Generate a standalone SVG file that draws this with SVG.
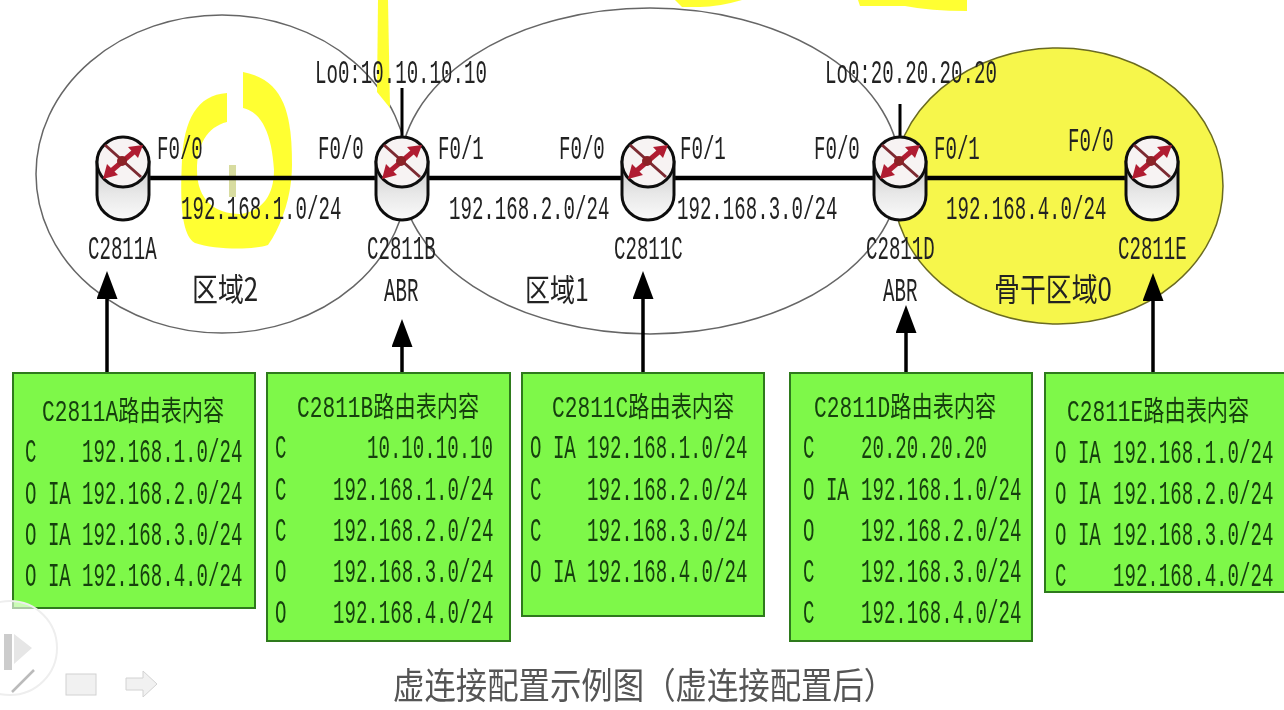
<svg xmlns="http://www.w3.org/2000/svg" width="1284" height="710" viewBox="0 0 1284 710">
<style>
text{font-family:"Liberation Mono","Noto Sans CJK SC",monospace;fill:#222;font-size:19.1px;text-anchor:start}
.box~text{fill:#17400f}
.title{font-size:21.2px}
.a24{font-family:"Noto Sans CJK SC",sans-serif;font-size:25px}
.a26{font-family:"Noto Sans CJK SC",sans-serif;font-size:25.9px}
.cap{font-family:"Noto Sans CJK SC",sans-serif;font-size:31.4px;fill:#555}
.area{fill:none;stroke:#666;stroke-width:1.5}
.box{fill:#7ef84a;stroke:#2f7a1c;stroke-width:2}
.link{stroke:#000;fill:none}
.ptr{stroke:#000;stroke-width:3.5;fill:none;marker-end:url(#head)}
.yb{fill:#ffff33}
.ui{fill:#e4e4e4;stroke:#d2d2d2}
</style>
<defs>
<linearGradient id="body" x1="0" y1="0" x2="0" y2="1"><stop offset="0" stop-color="#c8c8c8"/><stop offset=".55" stop-color="#e8e8e8"/><stop offset="1" stop-color="#fafafa"/></linearGradient>
<marker id="head" markerUnits="userSpaceOnUse" markerWidth="30" markerHeight="22" refX="1" refY="10.500" orient="auto"><path d="M0,0L28,10.500L0,21Z" fill="#000"/></marker>
<filter id="soft" x="0" y="0" width="100%" height="100%"><feGaussianBlur stdDeviation="0.6"/></filter>
<g id="router">
<path d="M-26,-16V17A26,25 0 0 0 26,17V-16Z" fill="url(#body)" stroke="#111" stroke-width="3"/>
<ellipse cx="0" cy="-16" rx="26" ry="25" fill="#f7f3f3" stroke="#111" stroke-width="3"/>
<path d="M-18,-33L18,-1" stroke="#7c2a30" stroke-width="3" fill="none"/>
<path d="M13,-28L-13,-6" stroke="#b01f30" stroke-width="5" fill="none"/>
<path d="M20,-33L5,-31L15,-20ZM-20,1L-16,-14L-5,-3Z" fill="#b01f30"/>
<circle cx="-1" cy="-17" r="5" fill="#8c2028"/>
</g>
</defs>
<rect width="1284" height="710" fill="#fff"/>
<g filter="url(#soft)">
<g id="areas">
<ellipse id="area2" class="area" cx="222" cy="174" rx="186" ry="159"/>
<ellipse id="area1" class="area" cx="650" cy="171" rx="250" ry="163"/>
<ellipse id="area0" cx="1058" cy="186" rx="165" ry="138" fill="#f6f64c" stroke="#6b6b20" stroke-width="1.500"/>
</g>
<g id="highlights">
<path class="yb" d="M227,93C197,95 184,120 182,160C180,200 181,235 195,243C215,250 255,250 268,245C282,225 292,195 292,165C292,115 285,80 243,72L243,108C262,112 272,135 274,170C274,195 262,212 240,214C215,214 197,200 197,170C197,145 207,127 227,122Z"/>
<path class="yb" d="M378,0H388L390,108L377,92Z"/>
<path class="yb" d="M675,0H742Q718,7 700,7H682Z"/>
<path class="yb" d="M858,0H967V11Q930,11 905,6H860Z"/>
<rect x="229" y="165" width="7" height="32" fill="#d8dca0"/>
</g>
<g id="connectors">
<path class="link" stroke-width="4.500" d="M148,178H1127"/>
<path class="link" stroke-width="3" d="M402,88V138M900,104V138"/>
<path class="ptr" d="M107,373V298"/>
<path class="ptr" d="M402,373V346"/>
<path class="ptr" d="M643,373V298"/>
<path class="ptr" d="M906,373V332"/>
<path class="ptr" d="M1153,373V300"/>
</g>
<g id="C2811A"><use href="#router" x="123" y="178"/><text transform="translate(88 259) scale(1 1.7)">C2811A</text></g>
<g id="C2811B"><use href="#router" x="402" y="178"/><text transform="translate(367 259) scale(1 1.7)">C2811B</text><text transform="translate(384 301) scale(1 1.7)">ABR</text><text transform="translate(315 83) scale(1 1.7)">Lo0:10.10.10.10</text></g>
<g id="C2811C"><use href="#router" x="648" y="178"/><text transform="translate(614 259) scale(1 1.7)">C2811C</text></g>
<g id="C2811D"><use href="#router" x="900" y="178"/><text transform="translate(866 259) scale(1 1.7)">C2811D</text><text transform="translate(883 301) scale(1 1.7)">ABR</text><text transform="translate(825 83) scale(1 1.7)">Lo0:20.20.20.20</text></g>
<g id="C2811E"><use href="#router" x="1152" y="178"/><text transform="translate(1118 259) scale(1 1.7)">C2811E</text></g>
<g id="link-labels">
<text transform="translate(157 159) scale(1 1.7)">F0/0</text>
<text transform="translate(318 159) scale(1 1.7)">F0/0</text>
<text transform="translate(438 159) scale(1 1.7)">F0/1</text>
<text transform="translate(559 159) scale(1 1.7)">F0/0</text>
<text transform="translate(680 159) scale(1 1.7)">F0/1</text>
<text transform="translate(814 159) scale(1 1.7)">F0/0</text>
<text transform="translate(934 159) scale(1 1.7)">F0/1</text>
<text transform="translate(1068 151) scale(1 1.7)">F0/0</text>
<text transform="translate(181 219) scale(1 1.7)">192.168.1.0/24</text>
<text transform="translate(449 219) scale(1 1.7)">192.168.2.0/24</text>
<text transform="translate(677 219) scale(1 1.7)">192.168.3.0/24</text>
<text transform="translate(946 219) scale(1 1.7)">192.168.4.0/24</text>
<text class="a26" transform="translate(192 301) scale(1 1.25)">区域2</text>
<text class="a24" transform="translate(525 301) scale(1 1.25)">区域1</text>
<text class="a26" transform="translate(994 301) scale(1 1.25)">骨干区域0</text>
</g>
<g id="table-A"><rect class="box" x="13" y="373" width="242" height="235"/>
<text class="title" transform="translate(42 421) scale(1 1.35)">C2811A路由表内容</text>
<text transform="translate(25 462) scale(1 1.7)">C</text><text transform="translate(82 462) scale(1 1.7)">192.168.1.0/24</text>
<text transform="translate(25 504) scale(1 1.7)">O IA</text><text transform="translate(82 504) scale(1 1.7)">192.168.2.0/24</text>
<text transform="translate(25 545) scale(1 1.7)">O IA</text><text transform="translate(82 545) scale(1 1.7)">192.168.3.0/24</text>
<text transform="translate(25 586) scale(1 1.7)">O IA</text><text transform="translate(82 586) scale(1 1.7)">192.168.4.0/24</text>
</g>
<g id="table-B"><rect class="box" x="267" y="373" width="243" height="268"/>
<text class="title" transform="translate(297 417) scale(1 1.35)">C2811B路由表内容</text>
<text transform="translate(275 458) scale(1 1.7)">C</text><text transform="translate(367 458) scale(1 1.7)">10.10.10.10</text>
<text transform="translate(275 500) scale(1 1.7)">C</text><text transform="translate(333 500) scale(1 1.7)">192.168.1.0/24</text>
<text transform="translate(275 541) scale(1 1.7)">C</text><text transform="translate(333 541) scale(1 1.7)">192.168.2.0/24</text>
<text transform="translate(275 582) scale(1 1.7)">O</text><text transform="translate(333 582) scale(1 1.7)">192.168.3.0/24</text>
<text transform="translate(275 623) scale(1 1.7)">O</text><text transform="translate(333 623) scale(1 1.7)">192.168.4.0/24</text>
</g>
<g id="table-C"><rect class="box" x="522" y="373" width="242" height="243"/>
<text class="title" transform="translate(552 417) scale(1 1.35)">C2811C路由表内容</text>
<text transform="translate(530 458) scale(1 1.7)">O IA</text><text transform="translate(587 458) scale(1 1.7)">192.168.1.0/24</text>
<text transform="translate(530 500) scale(1 1.7)">C</text><text transform="translate(587 500) scale(1 1.7)">192.168.2.0/24</text>
<text transform="translate(530 541) scale(1 1.7)">C</text><text transform="translate(587 541) scale(1 1.7)">192.168.3.0/24</text>
<text transform="translate(530 582) scale(1 1.7)">O IA</text><text transform="translate(587 582) scale(1 1.7)">192.168.4.0/24</text>
</g>
<g id="table-D"><rect class="box" x="790" y="373" width="242" height="268"/>
<text class="title" transform="translate(814 417) scale(1 1.35)">C2811D路由表内容</text>
<text transform="translate(803 458) scale(1 1.7)">C</text><text transform="translate(861 458) scale(1 1.7)">20.20.20.20</text>
<text transform="translate(803 500) scale(1 1.7)">O IA</text><text transform="translate(861 500) scale(1 1.7)">192.168.1.0/24</text>
<text transform="translate(803 541) scale(1 1.7)">O</text><text transform="translate(861 541) scale(1 1.7)">192.168.2.0/24</text>
<text transform="translate(803 582) scale(1 1.7)">C</text><text transform="translate(861 582) scale(1 1.7)">192.168.3.0/24</text>
<text transform="translate(803 623) scale(1 1.7)">C</text><text transform="translate(861 623) scale(1 1.7)">192.168.4.0/24</text>
</g>
<g id="table-E"><rect class="box" x="1045" y="373" width="245" height="219"/>
<text class="title" transform="translate(1067 421) scale(1 1.35)">C2811E路由表内容</text>
<text transform="translate(1055 463) scale(1 1.7)">O IA</text><text transform="translate(1113 463) scale(1 1.7)">192.168.1.0/24</text>
<text transform="translate(1055 504) scale(1 1.7)">O IA</text><text transform="translate(1113 504) scale(1 1.7)">192.168.2.0/24</text>
<text transform="translate(1055 545) scale(1 1.7)">O IA</text><text transform="translate(1113 545) scale(1 1.7)">192.168.3.0/24</text>
<text transform="translate(1055 586) scale(1 1.7)">C</text><text transform="translate(1113 586) scale(1 1.7)">192.168.4.0/24</text>
</g>
<text id="caption" class="cap" transform="translate(393 699) scale(1 1.15)">虚连接配置示例图（虚连接配置后）</text>
<g id="player">
<circle cx="10" cy="648" r="47" fill="#fff" fill-opacity=".6" stroke="#eee" stroke-width="2"/>
<rect x="4" y="634" width="8" height="36" fill="#ccc"/>
<path d="M14,634L32,648L14,664Z" fill="#e6e6e6"/>
<path d="M12,692L34,670" stroke="#bbb" stroke-width="2.500" fill="none"/>
<rect class="ui" x="66" y="674" width="30" height="21" fill-opacity=".5"/>
<path class="ui" d="M126,678H143V671L157,684L143,697V690H126Z" fill-opacity=".5"/>
</g>
</g>
</svg>
